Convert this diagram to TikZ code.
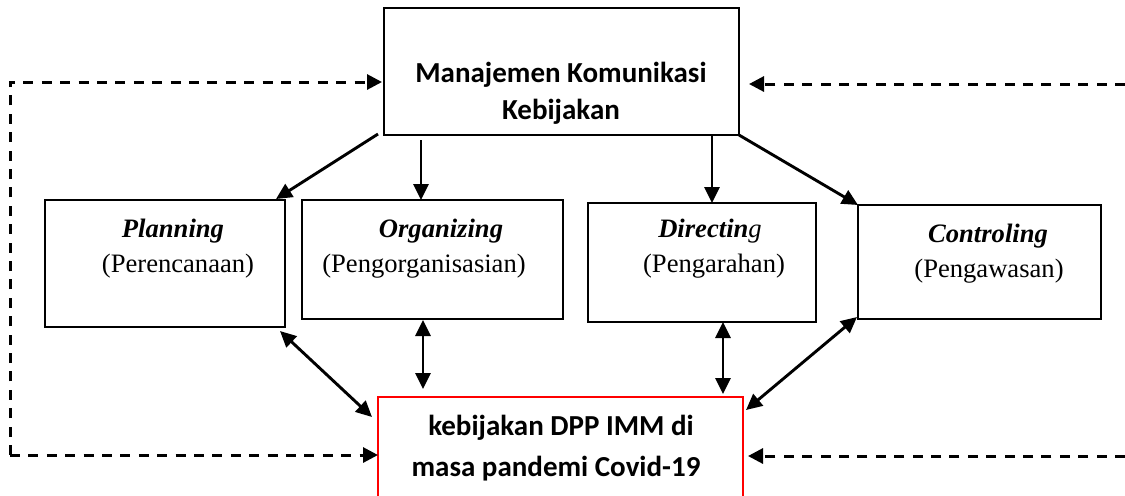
\documentclass[tikz,border=0pt]{standalone}
\usepackage{fontspec}
\setmainfont{Liberation Serif}
\newfontfamily\calibrifont{Carlito}
\usetikzlibrary{arrows.meta,calc}
\begin{document}
\begin{tikzpicture}[x=0.5pt,y=-0.5pt,
  box/.style={draw=black, line width=1pt, inner sep=0pt, outer sep=0pt, fill=none},
  headtxt/.style={anchor=base, inner sep=0pt, font=\calibrifont\bfseries\fontsize{14.5}{18}\selectfont},
  termtxt/.style={anchor=base, inner sep=0pt, font=\fontsize{13.3}{16}\selectfont\bfseries\itshape},
  subtxt/.style={anchor=base, inner sep=0pt, font=\fontsize{13.3}{16}\selectfont},
  conn/.style={line width=1.45pt, -{Triangle[length=8pt,width=7.5pt]}},
  bconn/.style={line width=1.45pt, {Triangle[length=8pt,width=7.5pt]}-{Triangle[length=8pt,width=7.5pt]}},
  fb/.style={line width=1.5pt, dash pattern=on 5pt off 4.2pt, -{Triangle[length=7.5pt,width=7.5pt]}}
]
\useasboundingbox (0,0) rectangle (1125,495);

% boxes
\node[box, minimum width=177.5pt, minimum height=63.5pt] (top) at (561.5,71.5) {};
\node[box, minimum width=120.25pt, minimum height=63.5pt] (plan) at (164.75,263.5) {};
\node[box, minimum width=130.5pt, minimum height=59.5pt] (org) at (432.5,259.5) {};
\node[box, minimum width=114pt, minimum height=59.5pt] (dir) at (702,262.5) {};
\node[box, minimum width=121.5pt, minimum height=57pt] (ctrl) at (979.5,262) {};
\node[box, draw=red, minimum width=182.5pt, minimum height=54pt] (res) at (560.5,451) {};

% texts
\node[headtxt] (toptxta) at (561,82) {Manajemen Komunikasi};
\node[headtxt] (toptxtb) at (561,119) {Kebijakan};
\node[termtxt] (plana) at (173,237) {Planning};
\node[subtxt] (planb) at (178,272) {(Perencanaan)};
\node[termtxt] (orga) at (441,237) {Organizing};
\node[subtxt] (orgb) at (424,272) {(Pengorganisasian)};
\node[termtxt] (dira) at (710,237) {Directin{\mdseries g}};
\node[subtxt] (dirb) at (714,272) {(Pengarahan)};
\node[termtxt] (ctrla) at (988,242) {Controling};
\node[subtxt] (ctrlb) at (989,277) {(Pengawasan)};
\node[headtxt] (resa) at (561,435) {kebijakan DPP IMM di};
\node[headtxt] (resb) at (556,476) {masa pandemi Covid-19};

% top to functions
\draw[conn] ($(top.south west)+(-6,-1)$) -- ($(plan.north east)+(-9,-1)$);
\draw[conn] ($(top.south west)+(37,5)$) -- ($(org.north west)+(119,0)$);
\draw[conn] ($(top.south west)+(328,0)$) -- ($(dir.north west)+(124,0)$);
\draw[conn] (top.south east) -- (ctrl.north west);

% functions to result
\draw[bconn] ($(plan.south east)+(-5,4)$) -- ($(res.north west)+(-6,20)$);
\draw[bconn] ($(org.south west)+(121,1)$) -- ($(res.north west)+(45,-8)$);
\draw[bconn] ($(dir.south west)+(135,0)$) -- ($(res.north east)+(-20,-3)$);
\draw[bconn] ($(ctrl.south west)+(-1,-2)$) -- ($(res.north east)+(3,13)$);

% feedback dashed lines
\coordinate (ctl) at (10,82);
\coordinate (cbl) at (10,455);
\coordinate (ctr) at (1125,84);
\coordinate (cbr) at (1125,456);
\draw[fb, shorten >=1pt] (cbl) -- (ctl) -- (ctl -| top.west);
\draw[fb] (cbl) -- (cbl -| res.west);
\draw[fb, shorten >=5pt] (ctr) -- (ctr -| top.east);
\draw[fb, shorten >=2.5pt] (cbr) -- (cbr -| res.east);
\end{tikzpicture}
\end{document}
